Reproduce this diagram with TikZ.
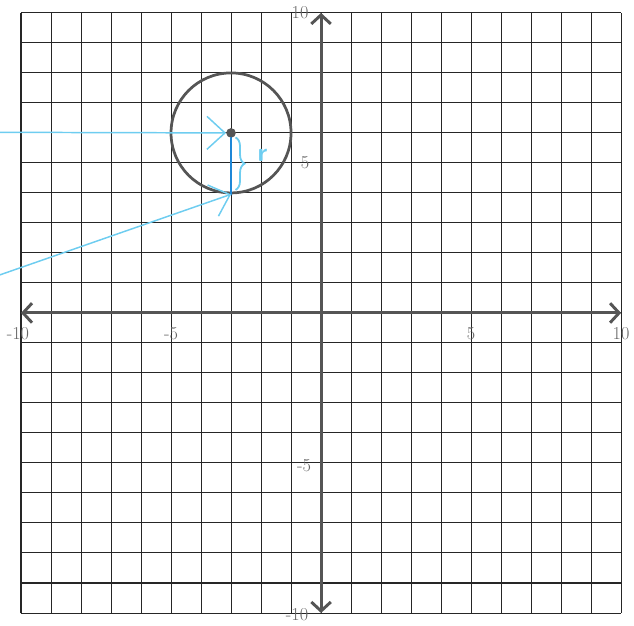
\documentclass[tikz,border=0pt]{standalone}
\usepackage{xcolor}
\usepackage{tikz}
\usetikzlibrary{arrows.meta, decorations.pathreplacing}

\definecolor{axisgray}{RGB}{85,85,85}
\definecolor{penlight}{RGB}{110,205,240}
\definecolor{pendark}{RGB}{30,135,215}

\begin{document}
\begin{tikzpicture}[
    gridline/.style={draw=black!85, line width=0.95pt},
    axis/.style={draw=axisgray, line width=2.8pt, {Straight Barb[length=3mm, width=6.5mm]}-{Straight Barb[length=3mm, width=6.5mm]}},
    tick/.style={text=black!60, font=\LARGE, inner sep=1pt},
    ring/.style={draw=axisgray, line width=2.6pt, circle, minimum size=4cm, inner sep=0pt},
    dot/.style={fill=axisgray, circle, minimum size=0.32cm, inner sep=0pt},
    pen/.style={draw=penlight, line width=1.4pt, line cap=round, -{Straight Barb[length=6mm, width=11mm]}},
    radius line/.style={draw=pendark, line width=2.6pt, line cap=round},
    bracepen/.style={draw=penlight, line width=1.7pt, decorate, decoration={brace, amplitude=0.3cm}}
]
\useasboundingbox (-10.7,-10.4) rectangle (10.43,10.43);

\draw[gridline] (-10,-10) grid (10,10);

\coordinate (xmin) at (-10,0);
\coordinate (xmax) at (10,0);
\coordinate (ymin) at (0,-10);
\coordinate (ymax) at (0,10);
\draw[axis] (xmin) -- (xmax);
\draw[axis] (ymin) -- (ymax);

\node[tick] (xlabelA) at (-10.1,-0.7) {-10};
\node[tick] (xlabelB) at (-5,-0.7) {-5};
\node[tick] (xlabelC) at (5,-0.7) {5};
\node[tick] (xlabelD) at (10,-0.7) {10};
\node[tick] (ylabelA) at (-0.7,10) {10};
\node[tick] (ylabelB) at (-0.53,5) {5};
\node[tick] (ylabelC) at (-0.57,-5.1) {-5};
\node[tick] (ylabelD) at (-0.8,-10.05) {-10};

\node[ring] (circ) at (-3,6) {};
\node[dot] (center) at (-3,6) {};

\coordinate (penA) at (-10.7,6.02);
\coordinate (penB) at (-10.7,1.27);
\coordinate (braceTop) at (-2.85,5.85);
\coordinate (braceBot) at (-2.85,4.1);

\draw[radius line] (center) -- (circ.south);
\draw[pen] (penA) -- (center.west);
\draw[pen] (penB) -- (circ.south);
\draw[bracepen] (braceTop) -- (braceBot);
\node[text=penlight, font=\Huge\sffamily\bfseries] (rlabel) at (-1.95,5.25) {r};
\end{tikzpicture}
\end{document}
